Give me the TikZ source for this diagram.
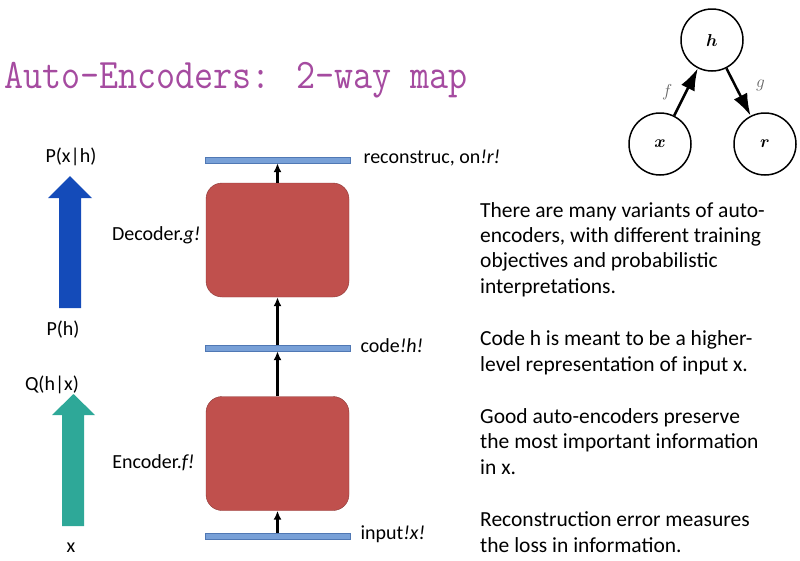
\documentclass[tikz,border=0pt]{standalone}
\usepackage{fontspec}
\usepackage{bm}
\setmainfont{Carlito}
\usetikzlibrary{arrows.meta}
\definecolor{titlecol}{RGB}{165,75,160}
\definecolor{barblue}{RGB}{120,160,215}
\definecolor{barline}{RGB}{80,120,180}
\definecolor{boxred}{RGB}{192,80,77}
\definecolor{boxline}{RGB}{140,56,54}
\definecolor{decblue}{RGB}{20,75,185}
\definecolor{encteal}{RGB}{46,168,152}
\begin{document}
\begin{tikzpicture}[x=1pt, y=-1pt, font=\fontsize{20}{24}\selectfont,
    layer/.style={draw=barline, fill=barblue, minimum width=145pt, minimum height=6pt, inner sep=0pt},
    coder/.style={draw=boxline, fill=boxred, rounded corners=16pt, minimum width=143pt, minimum height=114pt},
    flow/.style={-{Latex[length=9pt,width=8pt]}, line width=2.5pt},
    var/.style={draw, circle, line width=1.5pt, minimum size=62pt, inner sep=0pt, font=\fontsize{18}{18}\selectfont},
    map/.style={-{Latex[length=22pt,width=15pt]}, line width=2.5pt}]
    \useasboundingbox (0,0) rectangle (800,560);
    % title
    \node (title) [anchor=base west, inner sep=0pt, text=titlecol, font=\ttfamily\fontsize{42}{42}\selectfont] at (4,88) {\scalebox{0.88}[1]{Auto-Encoders: 2-way map}};
    % layers and boxes
    \node (recon) [layer] at (277.5,160) {};
    \node (code) [layer] at (277.5,348) {};
    \node (input) [layer] at (277.5,536) {};
    \node (dec) [coder] at (277.5,240) {};
    \node (enc) [coder] at (277.5,453.5) {};
    \draw[flow] (input) -- (enc);
    \draw[flow] (enc) -- (code);
    \draw[flow] (code) -- (dec);
    \draw[flow] (dec) -- (recon);
    \node (reconlab) [anchor=west] at (360,158) {reconstruc, on\textit{!r!}};
    \node (codelab) [anchor=west] at (357,346) {code\textit{!h!}};
    \node (inputlab) [anchor=west] at (357,534) {input\textit{!x!}};
    \node (declab) [anchor=east] at (204,235) {Decoder.\textit{g!}};
    \node (enclab) [anchor=east] at (198,463) {Encoder.\textit{f!}};
    % block arrows
    \fill[decblue] (59,308) -- (59,198) -- (48,198) -- (70,176) -- (92,198) -- (81,198) -- (81,308) -- cycle;
    \fill[encteal] (62,526) -- (62,415) -- (52,415) -- (73.5,394) -- (95,415) -- (84,415) -- (84,526) -- cycle;
    \node (pxh) at (71,157) {P(x|h)};
    \node (ph) at (63,330) {P(h)};
    \node (qhx) at (52,385) {Q(h|x)};
    \node (xlab) at (71,548) {x};
    % graph
    \node (h) [var] at (712,40) {$\bm{h}$};
    \node (x) [var] at (660,144) {$\bm{x}$};
    \node (r) [var] at (765,144) {$\bm{r}$};
    \draw[map] (x) -- node[left=9pt, text=black!60, font=\fontsize{17}{17}\selectfont] {$f$} (h);
    \draw[map] (h) -- node[right=13pt, yshift=7pt, text=black!60, font=\fontsize{17}{17}\selectfont] {$g$} (r);
    % notes
    \node (notes) [anchor=north west, align=left, inner sep=0pt, font=\fontsize{21.5}{25.3}\selectfont] at (480,202) {There are many variants of auto-\\encoders, with different training\\objectives and probabilistic\\interpretations.\\[27.5pt]Code h is meant to be a higher-\\level representation of input x.\\[27pt]Good auto-encoders preserve\\the most important information\\in x.\\[27.5pt]Reconstruction error measures\\the loss in information.};
\end{tikzpicture}
\end{document}
